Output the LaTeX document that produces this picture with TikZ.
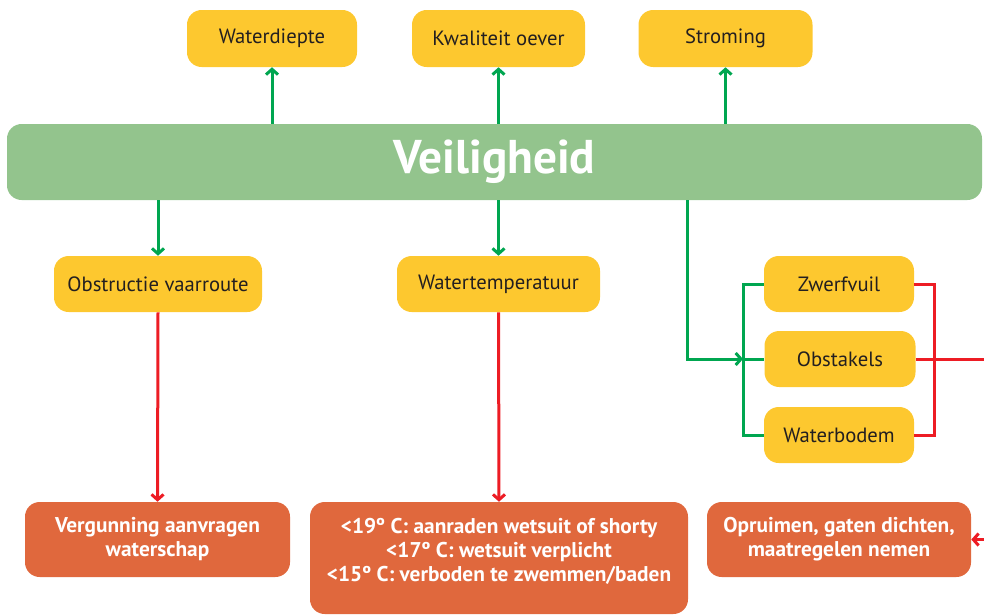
\documentclass[tikz,border=0pt]{standalone}
\usepackage{fontspec}
\setmainfont{PT Sans}
\usetikzlibrary{arrows.meta}

\definecolor{balk}{HTML}{93C48D}
\definecolor{geel}{HTML}{FDC82F}
\definecolor{oranje}{HTML}{E0683D}
\definecolor{groen}{HTML}{00A650}
\definecolor{rood}{HTML}{ED1C24}
\definecolor{tekst}{HTML}{231F20}

\begin{document}
\begin{tikzpicture}
    [x=0.75pt,y=-0.75pt,
    maat/.style 2 args={minimum width=#1*0.75pt,minimum height=#2*0.75pt,inner sep=0pt},
    geelbox/.style={rounded corners=11pt,fill=geel,text=tekst,
        font=\fontsize{15.5}{17}\selectfont},
    oranjebox/.style={rounded corners=11pt,fill=oranje,text=white,align=center,
        font=\bfseries\fontsize{16}{18}\selectfont},
    groenpijl/.style={draw=groen,line width=2.25pt,-{Straight Barb[length=4pt,width=9pt]}},
    roodpijl/.style={draw=rood,line width=2.25pt,-{Straight Barb[length=4pt,width=9pt]}},
    groenlijn/.style={draw=groen,line width=2.25pt},
    roodlijn/.style={draw=rood,line width=2.25pt}]

    \clip (0,0) rectangle (984,615);

    % hoofdbalk
    \node[maat={975}{76},rounded corners=11pt,fill=balk,text=white,
        font=\bfseries\fontsize{35.5}{40}\selectfont] (V) at (494.5,162) {Veiligheid};

    % bovenste rij
    \node[geelbox,maat={170}{57}] (WD) at (272,38.5) {Waterdiepte};
    \node[geelbox,maat={173}{57}] (KO) at (498.5,38.5) {Kwaliteit oever};
    \node[geelbox,maat={174}{57}] (ST) at (725.5,38.5) {Stroming};

    % middelste rij
    \node[geelbox,maat={208}{56}] (OV) at (158,284) {Obstructie vaarroute};
    \node[geelbox,maat={203}{56}] (WT) at (498.5,284) {Watertemperatuur};
    \node[geelbox,maat={150}{56}] (ZV) at (839,284) {Zwerfvuil};
    \node[geelbox,maat={151}{56}] (OB) at (840,359) {Obstakels};
    \node[geelbox,maat={150}{56}] (WB) at (839,435) {Waterbodem};

    % maatregelen
    \node[oranjebox,maat={265}{75}] (VG) at (157.5,539.5)
        {Vergunning aanvragen\\waterschap};
    \node[oranjebox,maat={378}{112},text depth=12pt] (TP) at (499,558)
        {<19º C: aanraden wetsuit of shorty\\<17º C: wetsuit verplicht\\<15º C: verboden te zwemmen/baden};
    \node[oranjebox,maat={264}{75}] (OP) at (839,539.5)
        {Opruimen, gaten dichten,\\maatregelen nemen};

    % hulppunten
    \coordinate (s) at (687,0);
    \coordinate (gb) at (743,0);
    \coordinate (rb) at (934,0);
    \coordinate (rr) at (1000,0);

    % groene pijlen
    \draw[groenpijl] (V.north -| WD) -- (WD.south);
    \draw[groenpijl] (V.north -| KO) -- (KO.south);
    \draw[groenpijl] (V.north -| ST) -- (ST.south);
    \draw[groenpijl] (V.south -| OV) -- (OV.north);
    \draw[groenpijl] (V.south -| WT) -- (WT.north);
    \draw[groenlijn] (ZV.west) -- (ZV.west -| gb) -- (WB.west -| gb) -- (WB.west);
    \draw[groenlijn] (OB.west -| gb) -- (OB.west);
    \draw[groenpijl] (V.south -| s) -- (s |- OB) -- (OB.west -| gb);

    % rode pijlen
    \draw[roodpijl] (OV.south) -- (VG.north);
    \draw[roodpijl] (WT.south) -- (TP.north);
    \draw[roodlijn] (ZV.east) -- (ZV.east -| rb) -- (WB.east -| rb) -- (WB.east);
    \draw[roodpijl] (OB.east) -- (OB.east -| rr) -- (OP.east -| rr) -- (OP.east);

\end{tikzpicture}
\end{document}
